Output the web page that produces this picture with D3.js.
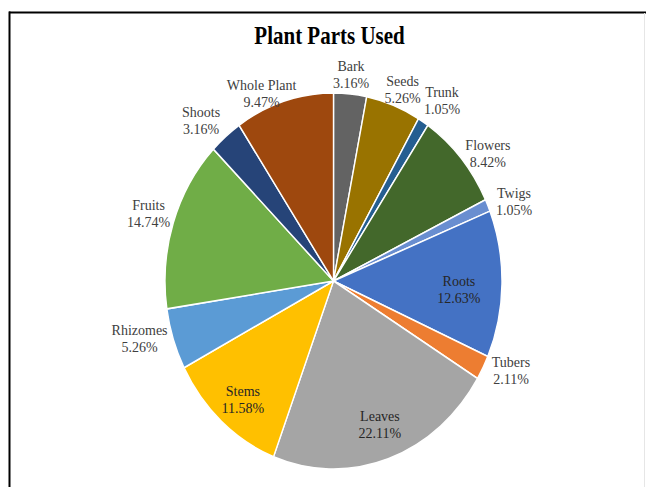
<!DOCTYPE html>
<html>
<head>
<meta charset="utf-8">
<script src="https://cdn.jsdelivr.net/npm/d3@7"></script>
<style>
  html, body { margin: 0; padding: 0; background: #fff; }
  svg { display: block; }
  text { font-family: "Liberation Serif", "Times New Roman", serif; }
</style>
</head>
<body>
<svg id="chart" width="646" height="487"></svg>
<script>
// Share of plant parts used (percent), clockwise from 12 o'clock
const parts = ["Bark", "Seeds", "Trunk", "Flowers", "Twigs", "Roots", "Tubers",
               "Leaves", "Stems", "Rhizomes", "Fruits", "Shoots", "Whole Plant"];
const shares = [3.16, 5.26, 1.05, 8.42, 1.05, 12.63, 2.11,
                22.11, 11.58, 5.26, 14.74, 3.16, 9.47];
const colors = ["#636363", "#997300", "#255E91", "#43682B", "#698ED0", "#4472C4", "#ED7D31",
                "#A5A5A5", "#FFC000", "#5B9BD5", "#70AD47", "#264478", "#9E480E"];

// Label placement: radius as a fraction of the pie radius, and a turn (degrees) off the slice middle
const labelRadius = [1.077, 1.073, 1.134, 1.125, 1.143, 0.748, 1.168,
                     0.836, 0.849, 1.198, 1.147, 1.142, 1.061];
const labelTurn = [-0.15, 1.6, 2.4, 5.3, 3.3, 4.6, -1.85,
                   -0.3, -2.4, 1.9, -1.1, -3.7, -6.65];

const data = parts.map((p, i) => ({ part: p, share: shares[i], color: colors[i], i }));

const svg = d3.select("#chart");
const W = 646, H = 487;

// Frame
svg.append("line").attr("x1", 9).attr("x2", W).attr("y1", 12.5).attr("y2", 12.5)
  .attr("stroke", "#000").attr("stroke-width", 2);
svg.append("line").attr("x1", 9.5).attr("x2", 9.5).attr("y1", 11.5).attr("y2", H)
  .attr("stroke", "#000").attr("stroke-width", 2);
svg.append("line").attr("x1", 644.5).attr("x2", 644.5).attr("y1", 13).attr("y2", H)
  .attr("stroke", "#e6e6e6").attr("stroke-width", 1);

// Title
svg.append("text")
  .attr("transform", "translate(329.5,44) scale(1,1.22)")
  .attr("text-anchor", "middle")
  .attr("font-size", 21)
  .attr("font-weight", "bold")
  .attr("fill", "#000")
  .text("Plant Parts Used");

// Pie geometry (slightly taller than wide)
const cx = 333.5, cy = 281, rx = 168.5, ry = 188;

const pie = d3.pie().value(d => d.share).sort(null).startAngle(0).endAngle(2 * Math.PI);
const arcs = pie(data);
const arc = d3.arc().innerRadius(0).outerRadius(rx);

const g = svg.append("g")
  .attr("transform", `translate(${cx},${cy}) scale(1,${ry / rx})`);

g.selectAll("path.slice")
  .data(arcs)
  .join("path")
  .attr("class", "slice")
  .attr("d", arc)
  .attr("fill", d => d.data.color)
  .attr("stroke", "#fff")
  .attr("stroke-width", 1.4)
  .attr("stroke-linejoin", "round");

// Data labels
const labels = svg.append("g");
arcs.forEach(a => {
  const i = a.data.i;
  const mid = (a.startAngle + a.endAngle) / 2 + labelTurn[i] * Math.PI / 180;
  const r = labelRadius[i];
  const x = cx + Math.sin(mid) * r * rx;
  const y = cy - Math.cos(mid) * r * ry;
  const inside = r < 1;
  const t = labels.append("text")
    .attr("text-anchor", "middle")
    .attr("font-size", 14)
    .attr("fill", inside ? "#262626" : "#404040");
  t.append("tspan").attr("x", x).attr("y", y - 8.5).text(a.data.part);
  t.append("tspan").attr("x", x).attr("y", y + 8.5).text(a.data.share.toFixed(2) + "%");
});
</script>
</body>
</html>
